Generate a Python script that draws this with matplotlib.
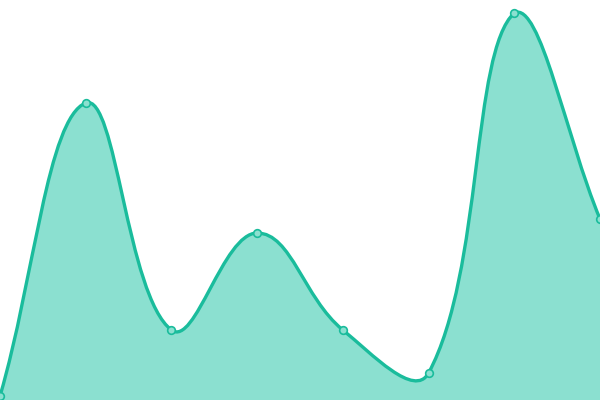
import numpy as np
import matplotlib
matplotlib.use("Agg")
import matplotlib.pyplot as plt
from matplotlib.path import Path
from matplotlib.patches import PathPatch

# values (chart height = 400 units)
labels = ["A", "B", "C", "D", "E", "F", "G", "H"]
values = [4, 297, 70, 167, 70, 27, 387, 181]

line_color = "#1abc9c"
fill_color = "#8be0d0"
tension = 0.4

x = np.arange(len(values), dtype=float)
y = np.array(values, dtype=float)
xs = 600 / (len(values) - 1)  # px per category, for distance weighting

# chart.js-style spline control points
cp_prev, cp_next = [], []
n = len(x)
for i in range(n):
    p0 = (x[max(i - 1, 0)], y[max(i - 1, 0)])
    p1 = (x[i], y[i])
    p2 = (x[min(i + 1, n - 1)], y[min(i + 1, n - 1)])
    d01 = np.hypot((p1[0] - p0[0]) * xs, p1[1] - p0[1])
    d12 = np.hypot((p2[0] - p1[0]) * xs, p2[1] - p1[1])
    tot = d01 + d12 if d01 + d12 else 1
    fa = tension * d01 / tot
    fb = tension * d12 / tot
    dx, dy = p2[0] - p0[0], p2[1] - p0[1]
    cp_prev.append((np.clip(p1[0] - fa * dx, 0, n - 1), np.clip(p1[1] - fa * dy, 0, 400)))
    cp_next.append((np.clip(p1[0] + fb * dx, 0, n - 1), np.clip(p1[1] + fb * dy, 0, 400)))

verts = [(x[0], y[0])]
codes = [Path.MOVETO]
for i in range(n - 1):
    verts += [cp_next[i], cp_prev[i + 1], (x[i + 1], y[i + 1])]
    codes += [Path.CURVE4] * 3

line_path = Path(verts, codes)
fill_path = Path(verts + [(x[-1], 0), (x[0], 0), (x[0], y[0])],
                 codes + [Path.LINETO, Path.LINETO, Path.CLOSEPOLY])

fig = plt.figure(figsize=(6, 4), dpi=100)
ax = fig.add_axes([0, 0, 1, 1])
ax.add_patch(PathPatch(fill_path, facecolor=fill_color, edgecolor="none"))
ax.add_patch(PathPatch(line_path, facecolor="none", edgecolor=line_color, lw=2.4,
                       capstyle="round", joinstyle="round"))
ax.plot(x, y, "o", ms=5.5, mfc=fill_color, mec=line_color, mew=1.2)
ax.set_xlim(0, n - 1)
ax.set_ylim(0, 400)
ax.axis("off")
fig.savefig("out.png", dpi=100)
